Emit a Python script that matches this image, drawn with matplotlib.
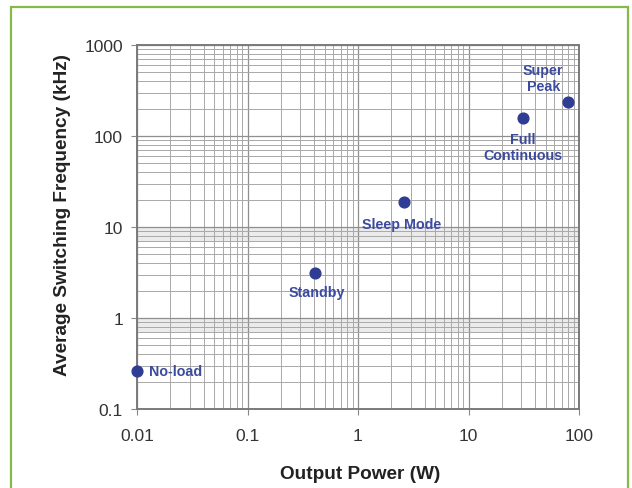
import matplotlib.pyplot as plt
from matplotlib.patches import Rectangle
from matplotlib.ticker import LogLocator, FixedLocator, FixedFormatter, NullFormatter

# operating modes
modes = ['No-load', 'Standby', 'Sleep Mode', 'Full\nContinuous', 'Super\nPeak']
power_w = [0.01, 0.41, 2.6, 31, 80]
freq_khz = [0.26, 3.1, 18.8, 158, 235]

# label offsets in pixels, (dx, dy) and alignment
offsets = [(12, 0, 'left'), (2, -19, 'center'), (-2, -22, 'center'),
           (0, -29, 'center'), (-25, 24, 'center')]

x_ticks = [0.01, 0.1, 1, 10, 100]
x_labels = ['0.01', '0.1', '1', '10', '100']
y_ticks = [0.1, 1, 10, 100, 1000]
y_labels = ['0.1', '1', '10', '100', '1000']

plt.rcParams['font.family'] = ['Liberation Sans', 'DejaVu Sans']

fig = plt.figure(figsize=(6.32, 4.89), dpi=100)
fig.patches.append(Rectangle((11 / 632, -0.02), 617 / 632, 1 - 8 / 489 + 0.02,
                             transform=fig.transFigure, fill=False,
                             edgecolor='#86b84a', lw=1.6))
ax = fig.add_axes([137 / 632, 1 - 410 / 489, 442 / 632, 364 / 489])

ax.set_xscale('log')
ax.set_yscale('log')
ax.set_xlim(0.01, 100)
ax.set_ylim(0.1, 1000)

# faint bands just below 1 and 10
for top in [1, 10]:
    ax.axhspan(top * 0.68, top, color='#ebebeb', zorder=0, lw=0)

ax.xaxis.set_major_locator(FixedLocator(x_ticks))
ax.xaxis.set_major_formatter(FixedFormatter(x_labels))
ax.yaxis.set_major_locator(FixedLocator(y_ticks))
ax.yaxis.set_major_formatter(FixedFormatter(y_labels))
ax.xaxis.set_minor_locator(LogLocator(base=10, subs=range(2, 10), numticks=20))
ax.yaxis.set_minor_locator(LogLocator(base=10, subs=range(2, 10), numticks=20))
ax.xaxis.set_minor_formatter(NullFormatter())
ax.yaxis.set_minor_formatter(NullFormatter())

ax.grid(which='major', color='#8f8f8f', lw=0.9)
ax.grid(which='minor', color='#a8a8a8', lw=0.7)
ax.set_axisbelow(True)
ax.tick_params(which='minor', length=0)
ax.tick_params(which='major', length=4, color='#888888', labelsize=12.5,
               labelcolor='#333333', pad=6)
ax.tick_params(axis='x', pad=10)
for s in ax.spines.values():
    s.set_color('#7a7a7a')
    s.set_linewidth(1.4)

ax.scatter(power_w, freq_khz, s=60, color='#2f3c93', zorder=5, clip_on=False)

for name, x, y, (dx, dy, ha) in zip(modes, power_w, freq_khz, offsets):
    ax.annotate(name, (x, y), xytext=(dx, dy), textcoords='offset pixels',
                ha=ha, va='center', fontsize=10.3, fontweight='bold',
                color='#3d4b9e', linespacing=1.15)

ax.set_xlabel('Output Power (W)', fontsize=13.7, fontweight='bold',
              color='#222222')
ax.set_ylabel('Average Switching Frequency (kHz)', fontsize=13.7,
              fontweight='bold', color='#222222')
ax.xaxis.set_label_coords((360 - 137) / 442, (410 - 466) / 364)
ax.yaxis.set_label_coords((71 - 137) / 442, (410 - 215) / 364)

fig.savefig('out.png', dpi=100)
